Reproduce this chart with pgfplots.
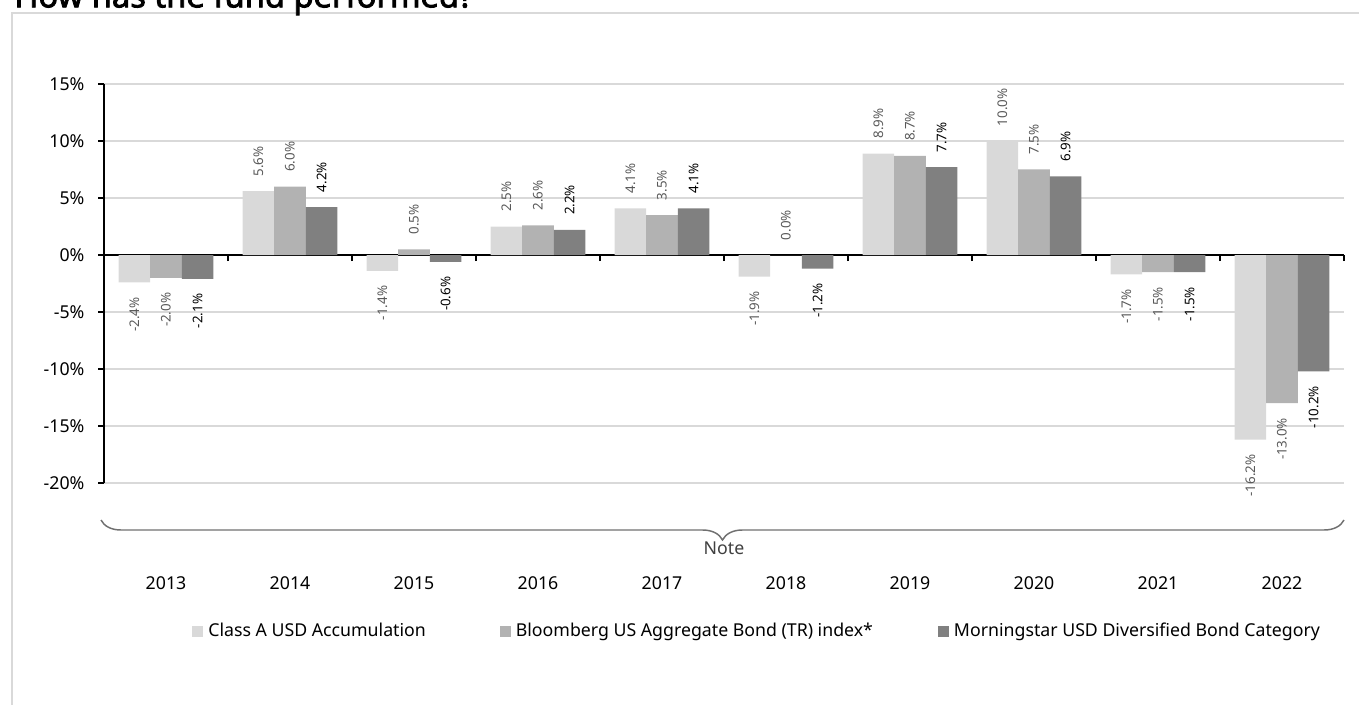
\documentclass[border=0pt]{standalone}
\usepackage{pgfplots}
\pgfplotsset{compat=1.18}
\usepackage{fontspec}
\setmainfont{Noto Sans}
\newfontfamily\titlefont{Noto Sans}[FakeBold=2.5]
\usetikzlibrary{decorations.pathreplacing}
\definecolor{cA}{HTML}{D9D9D9}
\definecolor{cB}{HTML}{B2B2B2}
\definecolor{cC}{HTML}{808080}
\definecolor{gridc}{HTML}{D9D9D9}
\definecolor{labg}{HTML}{595959}
\definecolor{bracec}{HTML}{707070}
\definecolor{notec}{HTML}{404040}
\newcommand\axfont{\fontsize{13.3}{16}\selectfont}
\newcommand\lblfont{\fontsize{10}{12}\selectfont}
\begin{document}
\begin{tikzpicture}
\useasboundingbox (0,0) rectangle (1019.25pt,-528.75pt);
\clip (0,0) rectangle (1019.25pt,-528.75pt);
\draw[gridc, line width=1.1pt] (9pt,-600pt) -- (9pt,-9.75pt) -- (1100pt,-9.75pt);
\node[anchor=base west, inner sep=0pt] at (10.5pt,-5.5pt) {\titlefont\fontsize{24.5}{24.5}\selectfont How has the fund performed?};
\begin{axis}[
 at={(78pt,-362.25pt)}, anchor=south west,
 scale only axis, width=930pt, height=299.25pt,
 xmin=-0.5, xmax=9.5, ymin=-20, ymax=15,
 axis x line=middle, axis y line=left,
 axis line style={-, black, line width=0.9pt},
 ybar, bar width=0.255,
 xtick={0.5,1.5,...,9.5}, xticklabels={},
 ytick={-20,-15,...,15},
 yticklabel={\pgfmathprintnumber{\tick}\%},
 yticklabel style={anchor=east, inner sep=0pt, xshift=-10pt, font=\axfont},
 /pgf/number format/assume math mode=true,
 tick align=outside, major tick length=4.5pt,
 tick style={black, line width=0.9pt},
 ymajorgrids, grid style={gridc, line width=1.1pt},
 nodes near coords={\rotatebox{90}{\pgfmathprintnumber[fixed,fixed zerofill,precision=1]{\pgfplotspointmeta}\%}},
 every node near coord/.append style={font=\lblfont, inner xsep=0pt, inner ysep=11pt},
 legend columns=3,
 legend style={draw=none, fill=none, at={(0.071,-0.371)}, anchor=west, inner sep=0pt,
   nodes={inner sep=0pt, font=\axfont, text=black},
   /tikz/column 1/.style={column sep=3.75pt},
   /tikz/column 2/.style={column sep=55.5pt},
   /tikz/column 3/.style={column sep=3.75pt},
   /tikz/column 4/.style={column sep=48.75pt},
   /tikz/column 5/.style={column sep=3.75pt}},
 legend image code/.code={\fill[#1] (0pt,-4.1pt) rectangle (8.25pt,4.1pt);},
 clip=false,
]
\addplot[fill=cA, draw=none, bar shift=-0.255, every node near coord/.append style={text=labg}]
 coordinates {(0,-2.4) (1,5.6) (2,-1.4) (3,2.5) (4,4.1) (5,-1.9) (6,8.9) (7,10.0) (8,-1.7) (9,-16.2)};
\addlegendentry{Class A USD Accumulation}
\addplot[fill=cB, draw=none, bar shift=0, every node near coord/.append style={text=labg}]
 coordinates {(0,-2.0) (1,6.0) (2,0.5) (3,2.6) (4,3.5) (5,0.0) (6,8.7) (7,7.5) (8,-1.5) (9,-13.0)};
\addlegendentry{Bloomberg US Aggregate Bond (TR) index*}
\addplot[fill=cC, draw=none, bar shift=0.255, every node near coord/.append style={text=black}]
 coordinates {(0,-2.1) (1,4.2) (2,-0.6) (3,2.2) (4,4.1) (5,-1.2) (6,7.7) (7,6.9) (8,-1.5) (9,-10.2)};
\addlegendentry{Morningstar USD Diversified Bond Category}
\end{axis}
\draw[bracec, line width=1.1pt, decorate, decoration={brace, mirror, amplitude=15pt}] (75.75pt,-390pt) -- (1008pt,-390pt);
\node[font=\axfont, text=notec] at (543pt,-411pt) {Note};
\foreach \i/\yr in {0/2013,1/2014,2/2015,3/2016,4/2017,5/2018,6/2019,7/2020,8/2021,9/2022}
  \node[font=\axfont] at ({124.5pt+93pt*\i},-437.25pt) {\yr};
\end{tikzpicture}
\end{document}
